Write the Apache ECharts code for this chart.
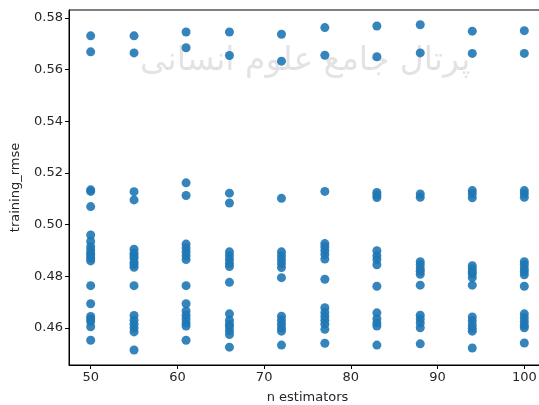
<!DOCTYPE html>
<html>
<head>
<meta charset="utf-8">
<script src="https://cdn.jsdelivr.net/npm/echarts@6/dist/echarts.min.js"></script>
<style>
	html, body { margin: 0; padding: 0; background: #fff; }
	#main { width: 539px; height: 405px; }
</style>
</head>
<body>
<div id="main"></div>
<script>
// n estimators (x columns)
var estimators = [50, 55, 61, 66, 72, 77, 83, 88, 94, 100];
// training rmse values, one list per column
var rmse50 = [0.5731, 0.5669, 0.5135, 0.5129, 0.5070, 0.4960, 0.4935, 0.4915, 0.4902, 0.4890, 0.4880, 0.4870, 0.4860, 0.4764, 0.4694, 0.4645, 0.4635, 0.4625, 0.4605, 0.4553];
var rmse55 = [0.5731, 0.5665, 0.5128, 0.5096, 0.4905, 0.4890, 0.4880, 0.4870, 0.4855, 0.4845, 0.4835, 0.4764, 0.4649, 0.4630, 0.4615, 0.4600, 0.4585, 0.4515];
var rmse61 = [0.5746, 0.5685, 0.5162, 0.5113, 0.4925, 0.4910, 0.4895, 0.4880, 0.4865, 0.4764, 0.4694, 0.4666, 0.4650, 0.4635, 0.4620, 0.4608, 0.4553];
var rmse66 = [0.5746, 0.5655, 0.5122, 0.5084, 0.4895, 0.4880, 0.4865, 0.4850, 0.4838, 0.4777, 0.4655, 0.4630, 0.4615, 0.4605, 0.4590, 0.4575, 0.4526];
var rmse72 = [0.5737, 0.5633, 0.5102, 0.4895, 0.4880, 0.4865, 0.4850, 0.4834, 0.4795, 0.4646, 0.4630, 0.4615, 0.4600, 0.4588, 0.4534];
var rmse77 = [0.5763, 0.5656, 0.5129, 0.4927, 0.4915, 0.4900, 0.4885, 0.4867, 0.4789, 0.4679, 0.4660, 0.4645, 0.4630, 0.4615, 0.4595, 0.4541];
var rmse83 = [0.5769, 0.5650, 0.5125, 0.5115, 0.5105, 0.4899, 0.4880, 0.4865, 0.4845, 0.4762, 0.4659, 0.4636, 0.4620, 0.4608, 0.4534];
var rmse88 = [0.5774, 0.5665, 0.5119, 0.5106, 0.4857, 0.4845, 0.4830, 0.4820, 0.4808, 0.4766, 0.4650, 0.4635, 0.4620, 0.4601, 0.4539];
var rmse94 = [0.5749, 0.5663, 0.5132, 0.5120, 0.5104, 0.4841, 0.4830, 0.4818, 0.4810, 0.4795, 0.4766, 0.4643, 0.4628, 0.4612, 0.4599, 0.4588, 0.4523];
var rmse100 = [0.5751, 0.5663, 0.5132, 0.5120, 0.5106, 0.4857, 0.4845, 0.4830, 0.4818, 0.4806, 0.4762, 0.4655, 0.4640, 0.4625, 0.4611, 0.4601, 0.4542];
var xTicks = [50, 60, 70, 80, 90, 100];
var yTicks = [0.46, 0.48, 0.50, 0.52, 0.54, 0.56, 0.58];

var columns = [rmse50, rmse55, rmse61, rmse66, rmse72, rmse77, rmse83, rmse88, rmse94, rmse100];
var points = [];
for(var i = 0; i < estimators.length; i++) {
	for(var j = 0; j < columns[i].length; j++) {
		points.push([estimators[i], columns[i][j]]);
	}
}

var myChart = echarts.init(document.getElementById('main'));
var labelFont = {
	color: '#262626',
	fontSize: 13,
	fontFamily: 'DejaVu Sans'
};
var option = {
	backgroundColor: '#fff',
	animation: false,
	graphic: [{
		type: 'text',
		left: 140,
		top: 45,
		silent: true,
		z: 0,
		style: {
			text: 'پرتال جامع علوم انسانی',
			fontSize: 33,
			fontFamily: 'DejaVu Sans',
			fill: 'rgba(185,185,185,0.4)'
		}
	}],
	grid: {
		left: 69,
		top: 10,
		width: 477, // plot box runs past the right edge of the picture
		bottom: 40,
		outerBoundsMode: 'none',
		show: true,
		borderColor: '#000',
		borderWidth: 1,
		backgroundColor: 'transparent'
	},
	xAxis: {
		type: 'value',
		min: 47.5,
		max: 102.5,
		name: 'n estimators',
		nameLocation: 'middle',
		nameGap: 26,
		nameTextStyle: labelFont,
		axisLine: { show: true, lineStyle: { color: '#000', width: 1 } },
		axisTick: { show: true, length: 4, lineStyle: { color: '#000' }, customValues: xTicks },
		axisLabel: Object.assign({ margin: 6, customValues: xTicks }, labelFont),
		splitLine: { show: false }
	},
	yAxis: {
		type: 'value',
		min: 0.4457,
		max: 0.5831,
		name: 'training_rmse',
		nameLocation: 'middle',
		nameGap: 47,
		nameRotate: 90,
		nameTextStyle: labelFont,
		axisLine: { show: true, lineStyle: { color: '#000', width: 1 } },
		axisTick: { show: true, length: 4, lineStyle: { color: '#000' }, customValues: yTicks },
		axisLabel: Object.assign({
			margin: 6,
			customValues: yTicks,
			formatter: function(v) { return v.toFixed(2); }
		}, labelFont),
		splitLine: { show: false }
	},
	series: [{
		type: 'scatter',
		symbolSize: 9,
		z: 3,
		itemStyle: { color: '#1f77b4', opacity: 0.9 },
		data: points
	}]
};
myChart.setOption(option);
</script>
</body>
</html>
